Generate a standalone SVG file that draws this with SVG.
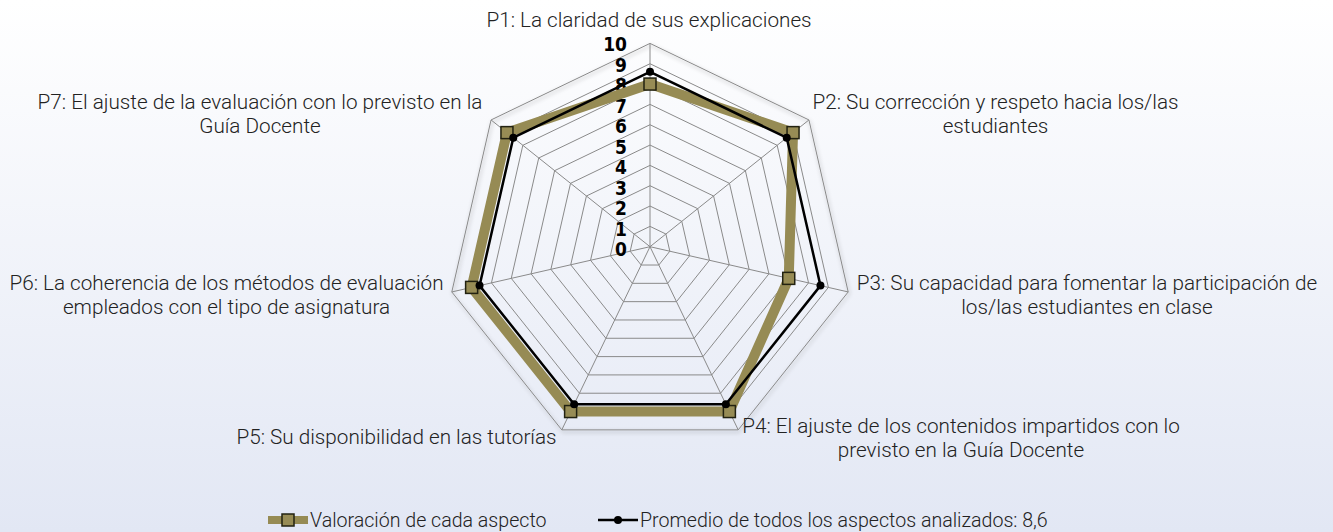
<svg xmlns="http://www.w3.org/2000/svg" width="1333" height="532" viewBox="0 0 1333 532">
<defs>
<linearGradient id="bg" x1="0" y1="0" x2="0" y2="1">
<stop offset="0" stop-color="#ffffff"/>
<stop offset="1" stop-color="#e2e7f4"/>
</linearGradient>
<filter id="sh" x="-10%" y="-10%" width="120%" height="120%">
<feGaussianBlur in="SourceAlpha" stdDeviation="2"/>
<feOffset dx="1" dy="2" result="b"/>
<feComponentTransfer><feFuncA type="linear" slope="0.35"/></feComponentTransfer>
<feMerge><feMergeNode/><feMergeNode in="SourceGraphic"/></feMerge>
</filter>
<rect id="sq" x="-6" y="-6" width="12" height="12" fill="#978c55" stroke="#222211" stroke-width="1.5"/>
<circle id="dot" r="4" fill="#000"/>
</defs>
<style>
.grid{fill:none;stroke:#8a8a8a;stroke-width:1}
.lbl{font-family:Roboto,"Liberation Sans",sans-serif;font-weight:300;font-size:20.7px;fill:#222;text-anchor:middle}
.leg{font-family:Roboto,"Liberation Sans",sans-serif;font-weight:300;font-size:19.6px;fill:#222}
.tick{font-family:"DejaVu Sans Condensed","DejaVu Sans",sans-serif;font-weight:bold;font-size:19px;fill:#000;text-anchor:end}
</style>
<rect width="1333" height="532" fill="url(#bg)"/>
<g id="radar-grid" transform="translate(650 246.7)">
<polygon class="grid" filter="url(#sh)" fill="none" points="0,-203.3 158.95,-126.76 198.2,45.24 88.21,183.17 -88.21,183.17 -198.2,45.24 -158.95,-126.76"/>
<polygon class="grid" points="0,-182.97 143.05,-114.08 178.38,40.71 79.39,164.85 -79.39,164.85 -178.38,40.71 -143.05,-114.08"/>
<polygon class="grid" points="0,-162.64 127.16,-101.4 158.56,36.19 70.57,146.53 -70.57,146.53 -158.56,36.19 -127.16,-101.4"/>
<polygon class="grid" points="0,-142.31 111.26,-88.73 138.74,31.67 61.75,128.22 -61.75,128.22 -138.74,31.67 -111.26,-88.73"/>
<polygon class="grid" points="0,-121.98 95.37,-76.05 118.92,27.14 52.92,109.9 -52.92,109.9 -118.92,27.14 -95.37,-76.05"/>
<polygon class="grid" points="0,-101.65 79.47,-63.38 99.1,22.62 44.1,91.58 -44.1,91.58 -99.1,22.62 -79.47,-63.38"/>
<polygon class="grid" points="0,-81.32 63.58,-50.7 79.28,18.1 35.28,73.27 -35.28,73.27 -79.28,18.1 -63.58,-50.7"/>
<polygon class="grid" points="0,-60.99 47.68,-38.03 59.46,13.57 26.46,54.95 -26.46,54.95 -59.46,13.57 -47.68,-38.03"/>
<polygon class="grid" points="0,-40.66 31.79,-25.35 39.64,9.05 17.64,36.63 -17.64,36.63 -39.64,9.05 -31.79,-25.35"/>
<polygon class="grid" points="0,-20.33 15.89,-12.68 19.82,4.52 8.82,18.32 -8.82,18.32 -19.82,4.52 -15.89,-12.68"/>
<path class="grid" d="M0,0L0,-203.3M0,0L158.95,-126.76M0,0L198.2,45.24M0,0L88.21,183.17M0,0L-88.21,183.17M0,0L-198.2,45.24M0,0L-158.95,-126.76"/>
</g>
<g id="ticks">
<text class="tick" x="627" y="51">10</text>
<text class="tick" x="627" y="71.5">9</text>
<text class="tick" x="627" y="92">8</text>
<text class="tick" x="627" y="112.5">7</text>
<text class="tick" x="627" y="133">6</text>
<text class="tick" x="627" y="153.5">5</text>
<text class="tick" x="627" y="174">4</text>
<text class="tick" x="627" y="194.5">3</text>
<text class="tick" x="627" y="215">2</text>
<text class="tick" x="627" y="235.5">1</text>
<text class="tick" x="627" y="256">0</text>
</g>
<g id="connectors" transform="translate(650 246.7)">
<polygon id="serie-valoracion" fill="none" stroke="#968b54" stroke-width="10" stroke-linejoin="miter" points="0,-162.64 143.05,-114.08 138.74,31.67 79.39,164.85 -79.39,164.85 -178.38,40.71 -143.05,-114.08"/>
<g id="markers-valoracion">
<use href="#sq" x="0" y="-162.64"/>
<use href="#sq" x="143.05" y="-114.08"/>
<use href="#sq" x="138.74" y="31.67"/>
<use href="#sq" x="79.39" y="164.85"/>
<use href="#sq" x="-79.39" y="164.85"/>
<use href="#sq" x="-178.38" y="40.71"/>
<use href="#sq" x="-143.05" y="-114.08"/>
</g>
<polygon id="serie-promedio" fill="none" stroke="#000" stroke-width="2.5" points="0,-174.84 136.7,-109.01 170.46,38.91 75.86,157.53 -75.86,157.53 -170.46,38.91 -136.7,-109.01"/>
<g id="markers-promedio">
<use href="#dot" x="0" y="-174.84"/>
<use href="#dot" x="136.7" y="-109.01"/>
<use href="#dot" x="170.46" y="38.91"/>
<use href="#dot" x="75.86" y="157.53"/>
<use href="#dot" x="-75.86" y="157.53"/>
<use href="#dot" x="-170.46" y="38.91"/>
<use href="#dot" x="-136.7" y="-109.01"/>
</g>
</g>
<g id="P1"><text class="lbl" x="649" y="27">P1: La claridad de sus explicaciones</text></g>
<g id="P2"><text class="lbl" x="995.5" y="109">P2: Su corrección y respeto hacia los/las</text><text class="lbl" x="995.5" y="133">estudiantes</text></g>
<g id="P3"><text class="lbl" x="1087" y="290">P3: Su capacidad para fomentar la participación de</text><text class="lbl" x="1087" y="314">los/las estudiantes en clase</text></g>
<g id="P4"><text class="lbl" x="961" y="433">P4: El ajuste de los contenidos impartidos con lo</text><text class="lbl" x="961" y="457">previsto en la Guía Docente</text></g>
<g id="P5"><text class="lbl" x="396.5" y="444">P5: Su disponibilidad en las tutorías</text></g>
<g id="P6"><text class="lbl" x="226.5" y="290">P6: La coherencia de los métodos de evaluación</text><text class="lbl" x="226.5" y="314">empleados con el tipo de asignatura</text></g>
<g id="P7"><text class="lbl" x="260" y="109">P7: El ajuste de la evaluación con lo previsto en la</text><text class="lbl" x="260" y="133">Guía Docente</text></g>
<g id="legend">
<line x1="268" y1="520" x2="308" y2="520" stroke="#968b54" stroke-width="8"/>
<use href="#sq" x="288" y="520"/>
<text class="leg" x="310" y="527">Valoración de cada aspecto</text>
<line x1="598" y1="520" x2="638" y2="520" stroke="#000" stroke-width="2.5"/>
<use href="#dot" x="618" y="520"/>
<text class="leg" x="640" y="527">Promedio de todos los aspectos analizados: 8,6</text>
</g>
</svg>
